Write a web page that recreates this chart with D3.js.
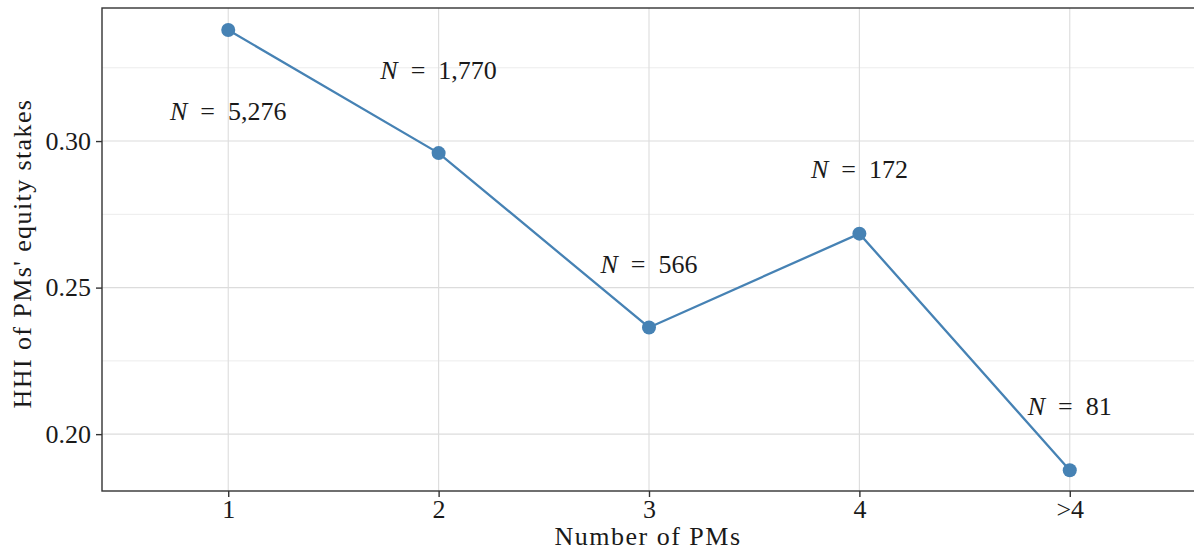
<!DOCTYPE html>
<html>
<head>
<meta charset="utf-8">
<script src="https://cdn.jsdelivr.net/npm/d3@7"></script>
<style>
  body { margin: 0; background: #fff; }
  text { font-family: "Liberation Serif", "Times New Roman", serif; fill: #1a1a1a; }
</style>
</head>
<body>
<div id="chart"></div>
<script>
// Chart data
const categories = ['1', '2', '3', '4', '>4'];
const hhiValues = [0.3379, 0.2959, 0.2364, 0.2684, 0.1877];
const countLabels = ['5,276', '1,770', '566', '172', '81'];
const labelYValues = [0.3102, 0.3242, 0.2582, 0.2904, 0.2096];
const yTicks = [0.20, 0.25, 0.30];
const yMinorTicks = [0.175, 0.225, 0.275, 0.325];

const CONFIG = {
    width: 1194,
    height: 560,
    margin: { top: 8, right: -2, bottom: 69, left: 102 },
    color: '#4682b4',
    fontSize: 26
};

function drawChart() {
    const { width, height, margin } = CONFIG;
    const innerW = width - margin.left - margin.right;
    const innerH = height - margin.top - margin.bottom;

    const svg = d3.select('#chart')
        .append('svg')
        .attr('width', width)
        .attr('height', height);

    const g = svg.append('g')
        .attr('transform', `translate(${margin.left},${margin.top})`);

    const x = d3.scalePoint()
        .domain(categories)
        .range([0, innerW])
        .padding(0.6);

    const y = d3.scaleLinear()
        .domain([0.1806, 0.3454])
        .range([innerH, 0]);

    // minor grid
    g.selectAll('.minor')
        .data(yMinorTicks.filter(d => d > y.domain()[0] && d < y.domain()[1]))
        .enter().append('line')
        .attr('x1', 0).attr('x2', innerW)
        .attr('y1', d => y(d)).attr('y2', d => y(d))
        .attr('stroke', '#ececec')
        .attr('stroke-width', 1);

    // major grid
    g.selectAll('.hmajor')
        .data(yTicks)
        .enter().append('line')
        .attr('x1', 0).attr('x2', innerW)
        .attr('y1', d => y(d)).attr('y2', d => y(d))
        .attr('stroke', '#dcdcdc')
        .attr('stroke-width', 1.1);

    g.selectAll('.vmajor')
        .data(categories)
        .enter().append('line')
        .attr('x1', d => x(d)).attr('x2', d => x(d))
        .attr('y1', 0).attr('y2', innerH)
        .attr('stroke', '#dcdcdc')
        .attr('stroke-width', 1.1);

    // line + points
    const line = d3.line()
        .x((d, i) => x(categories[i]))
        .y(d => y(d));

    g.append('path')
        .datum(hhiValues)
        .attr('d', line)
        .attr('fill', 'none')
        .attr('stroke', CONFIG.color)
        .attr('stroke-width', 2.3);

    g.selectAll('.pt')
        .data(hhiValues)
        .enter().append('circle')
        .attr('cx', (d, i) => x(categories[i]))
        .attr('cy', d => y(d))
        .attr('r', 7)
        .attr('fill', CONFIG.color);

    // N labels (en spaces around "=" to mimic math spacing)
    const lbl = g.selectAll('.nlabel')
        .data(countLabels)
        .enter().append('text')
        .attr('x', (d, i) => x(categories[i]))
        .attr('y', (d, i) => y(labelYValues[i]))
        .attr('dy', '0.35em')
        .attr('text-anchor', 'middle')
        .style('font-size', CONFIG.fontSize + 'px');
    lbl.append('tspan').style('font-style', 'italic').text('N');
    lbl.append('tspan').text(d => '\u2002=\u2002' + d);

    // panel border
    g.append('rect')
        .attr('x', 0).attr('y', 0)
        .attr('width', innerW + 10).attr('height', innerH)
        .attr('fill', 'none')
        .attr('stroke', '#333')
        .attr('stroke-width', 1.4);

    // axes
    const xAxis = g.append('g')
        .attr('transform', `translate(0,${innerH})`)
        .call(d3.axisBottom(x).tickSize(6).tickPadding(3));
    const yAxis = g.append('g')
        .call(d3.axisLeft(y).tickValues(yTicks).tickFormat(d3.format('.2f')).tickSize(6).tickPadding(5));

    [xAxis, yAxis].forEach(a => {
        a.select('.domain').remove();
        a.selectAll('.tick line').attr('stroke', '#333').attr('stroke-width', 1.4);
        a.selectAll('.tick text')
            .attr('fill', '#1a1a1a')
            .style('font-family', '"Liberation Serif", serif')
            .style('font-size', CONFIG.fontSize + 'px');
    });

    // axis titles
    svg.append('text')
        .attr('x', margin.left + (width - margin.left) / 2)
        .attr('y', 545)
        .attr('text-anchor', 'middle')
        .style('font-size', CONFIG.fontSize + 'px')
        .style('letter-spacing', '1.5px')
        .text('Number of PMs');

    svg.append('text')
        .attr('transform', `translate(31,${margin.top + innerH / 2 + 4}) rotate(-90)`)
        .attr('text-anchor', 'middle')
        .style('font-size', CONFIG.fontSize + 'px')
        .style('letter-spacing', '1.4px')
        .text("HHI of PMs' equity stakes");
}

drawChart();
</script>
</body>
</html>
